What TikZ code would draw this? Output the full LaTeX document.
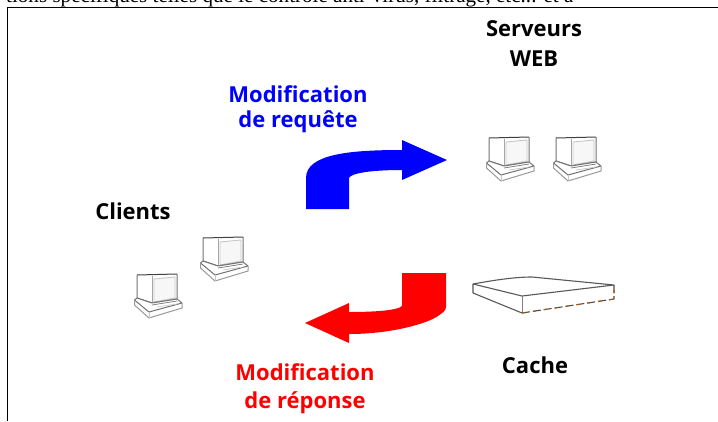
\documentclass[tikz,border=0pt]{standalone}
\usepackage{fontspec}
\setmainfont{Liberation Serif}
\newfontfamily\lblfont{Open Sans}
\begin{document}
\begin{tikzpicture}[x=1pt,y=-1pt,
  lbl/.style={font=\lblfont\bfseries\fontsize{22}{25}\selectfont,align=center,inner sep=0pt,anchor=center},
  edge/.style={draw=black!55,line width=1pt,line join=round},
  soft/.style={draw=black!22,line width=.9pt,line join=round},
  computer/.pic={
    \draw[soft,fill=black!3] (17,4) -- (38,2) -- (38,23) -- (17,27) -- cycle;
    \draw[edge,draw=black!75] (0,0) -- (40,-1);
    \draw[edge] (0,0) -- (0,23) -- (15,28) -- (40,24) -- (40,-1);
    \draw[soft,draw=black!35] (15,1) -- (15,28);
    \draw[edge,fill=white] (0,23) -- (-2.5,25) -- (12,37) -- (45,28) -- (40,24) -- (15,28) -- cycle;
    \draw[edge,draw=black!40] (-2.5,25) -- (-2.5,30) -- (12,43) -- (45,33) -- (45,28);
    \draw[soft] (12,37) -- (12,43);
    \draw[edge,line width=.7pt] (15,30) -- (40,26);
    \draw[soft,line width=.7pt] (20,32) -- (40,29);
  }]
\useasboundingbox (0,0) rectangle (718,421);
\fill[white] (0,0) rectangle (718,421);
\begin{scope}
\clip (0,0) rectangle (718,421);
\node[anchor=base west,inner sep=0pt,font=\fontsize{21.1}{24}\selectfont] (toptext) at (6,2.5) {tions spécifiques telles que le contrôle anti-virus, filtrage, etc... et a};
\end{scope}
\draw[black,line width=1pt] (7,421) -- (7,7.5) -- (718,7.5);

\node[lbl] (serveurs) at (534,44) {Serveurs\\[5pt]WEB};
\node[lbl,text=blue] (modreq) at (298,109) {Modification\\de requête};
\node[lbl] (clients) at (133,211) {Clients};
\node[lbl] (cache) at (535,365) {Cache};
\node[lbl,text=red] (modrep) at (305,389) {Modification\\[3pt]de réponse};

\fill[blue] (306,209) -- (349,209) -- (349,178)
  .. controls (351,173) and (372,170) .. (402,170)
  -- (402,180) -- (447,160) -- (402,140) -- (402,150)
  .. controls (350,150) and (306,154) .. (306,178) -- cycle;
\fill[red] (446,273) -- (402,273) -- (402,306)
  .. controls (398,310) and (378,312) .. (349,312)
  -- (349,303) -- (305,323) -- (349,343) -- (349,334)
  .. controls (395,334) and (430,322) .. (438,316)
  .. controls (442,313) and (446,311) .. (446,307) -- cycle;

\pic at (137,275) {computer};
\pic at (203,238) {computer};
\pic at (489,138) {computer};
\pic at (556,138) {computer};

\draw[edge,draw=black!65,line width=1.1pt,fill=white] (473,284) .. controls (495,280) and (515,277) .. (532,277) -- (614,285) -- (522,296) -- cycle;
\draw[edge,draw=black!65,line width=1.1pt] (473,284) -- (473,293) -- (522,313);
\draw[soft,draw=black!50] (522,296) -- (522,313);
\draw[edge,draw=black!70,line width=1.1pt,dash pattern=on 8pt off 3pt] (522,313) -- (614,299) -- (614,285);
\draw[draw=orange!70!black,line width=1.1pt,dash pattern=on 3pt off 8pt] (522,313) -- (614,299) -- (614,285);
\end{tikzpicture}
\end{document}
